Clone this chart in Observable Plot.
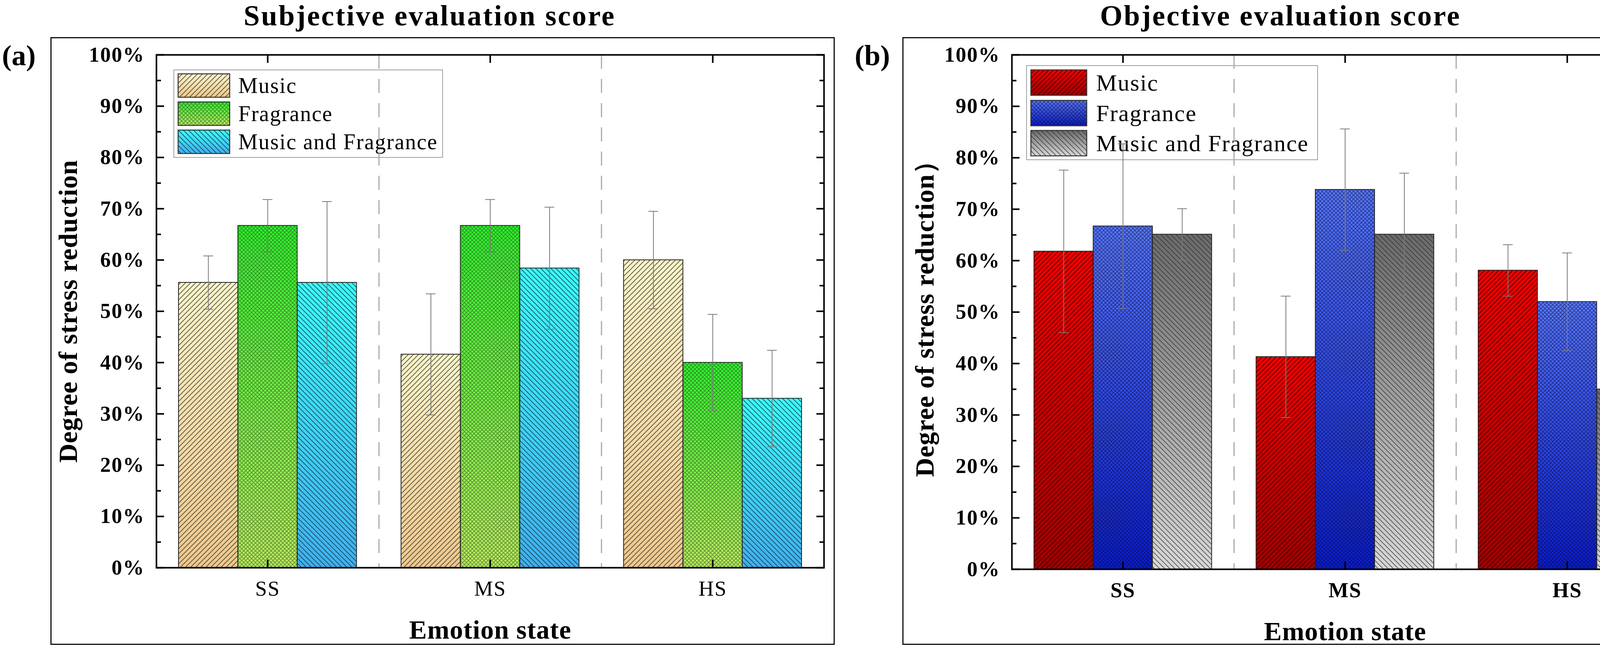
<!DOCTYPE html>
<html>
<head>
<meta charset="utf-8">
<script src="https://cdn.jsdelivr.net/npm/d3@7"></script>
<script src="https://cdn.jsdelivr.net/npm/@observablehq/plot@0.6"></script>
<style>
  html, body { margin: 0; padding: 0; background: #fff; overflow: hidden; }
  #page { position: relative; width: 4327px; height: 1659px; overflow: hidden; background: #fff;
          font-family: "Liberation Serif", "Times New Roman", serif; color: #000; }
  .abs { position: absolute; }
  .title { font-weight: bold; font-size: 74px; line-height: 1.107; white-space: nowrap; letter-spacing: 3.5px; transform: translateX(-50%); }
  .tag { font-weight: bold; font-size: 74px; line-height: 1; white-space: nowrap; }
  .panelframe { border: 3px solid #111; box-sizing: border-box; pointer-events: none; }
  .legend { border: 2px solid #a0a0a0; box-sizing: border-box; }
  .legend .txt { position: absolute; white-space: nowrap; line-height: 1; letter-spacing: 2px; }
  .legend svg { position: absolute; overflow: visible; }
  svg [aria-label="y-axis tick label"] { letter-spacing: 2px; }
  svg [aria-label="x-axis tick label"] { letter-spacing: 2px; }
  svg [aria-label="text"] { letter-spacing: 1px; }
</style>
</head>
<body>
<div id="page"></div>
<script>
// ---------------- data ----------------
const categories = ["SS", "MS", "HS"];
const series = ["Music", "Fragrance", "Music and Fragrance"];
const yTicks = [0, 10, 20, 30, 40, 50, 60, 70, 80, 90, 100];
const yMinorTicks = [5, 15, 25, 35, 45, 55, 65, 75, 85, 95];

// (a) Subjective evaluation score, % stress reduction (mean, error)
const subjMusic = [55.6, 41.6, 60.0];
const subjMusicErr = [5.2, 11.8, 9.5];
const subjFragrance = [66.7, 66.7, 40.0];
const subjFragranceErr = [5.1, 5.1, 9.4];
const subjBoth = [55.6, 58.4, 33.0];
const subjBothErr = [15.8, 11.9, 9.4];

// (b) Objective evaluation score
const objMusic = [61.8, 41.3, 58.1];
const objMusicErr = [15.8, 11.8, 5.0];
const objFragrance = [66.7, 73.8, 52.0];
const objFragranceErr = [16.0, 11.8, 9.5];
const objBoth = [65.1, 65.1, 35.0];
const objBothErr = [5.0, 11.9, 5.0];

// ---------------- helpers ----------------
function buildRows(vals, errs) {
  const rows = [];
  const groupWidth = 0.8, w = groupWidth / series.length;
  series.forEach((s, j) => categories.forEach((c, i) => {
    const x1 = i - groupWidth / 2 + j * w;
    rows.push({cat: c, series: s, j, x1, x2: x1 + w, xc: x1 + w / 2, v: vals[j][i], e: errs[j][i]});
  }));
  return rows;
}

function hatchPath(type, p) {
  const h = p / 2;
  const fwd = `M0,${p} L${p},0 M${-h},${h} L${h},${-h} M${h},${p + h} L${p + h},${h}`;
  const back = `M0,0 L${p},${p} M${-h},${h} L${h},${p + h} M${h},${-h} L${p + h},${h}`;
  if (type === "fwd") return fwd;
  if (type === "back") return back;
  return fwd + " " + back;
}

function defsMarkup(cfg) {
  let s = "";
  cfg.grads.forEach((g, j) => {
    s += `<linearGradient id="${cfg.id}-g${j}" x1="0" y1="0" x2="0" y2="1">
      <stop offset="0" stop-color="${g[0]}"/><stop offset="1" stop-color="${g[1]}"/></linearGradient>`;
  });
  cfg.hatch.forEach((h, j) => {
    s += `<pattern id="${cfg.id}-p${j}" patternUnits="userSpaceOnUse" width="${h.p}" height="${h.p}">
      <path d="${hatchPath(h.type, h.p)}" fill="none" stroke="${h.color}" stroke-width="${h.w}" stroke-opacity="${h.o}"/></pattern>`;
  });
  return s;
}

const panels = [
  {
    id: "pa", left: 129, top: 95, width: 2008, height: 1556, ml: 271, mr: 28, mt: 45, mb: 198,
    values: [subjMusic, subjFragrance, subjBoth], errors: [subjMusicErr, subjFragranceErr, subjBothErr],
    ylabel: "Degree of stress reduction", ylabelDx: -225, xBold: false,
    grads: [["#fbf5c9", "#efc88b"], ["#30f630", "#bcf062"], ["#3afcfc", "#3fb0ee"]],
    hatch: [
      {type: "fwd", p: 13, color: "#333", w: 2, o: 0.75},
      {type: "cross", p: 10, color: "#1f3010", w: 2, o: 0.45},
      {type: "back", p: 13, color: "#1a3040", w: 2, o: 0.75}
    ],
    legend: {left: 444, top: 178, width: 690, height: 226, sx: 9, sy: [8, 80, 152], sw: 134, sh: 62, tx: 164, fs: 56},
    title: "Subjective evaluation score", titleX: 1100, tag: "(a)", tagX: 5
  },
  {
    id: "pb", left: 2310, top: 95, width: 2009, height: 1556, ml: 280, mr: 23, mt: 45, mb: 194,
    values: [objMusic, objFragrance, objBoth], errors: [objMusicErr, objFragranceErr, objBothErr],
    ylabel: "Degree of stress reduction）", ylabelDx: -222, xBold: true,
    grads: [["#f20000", "#a00000"], ["#5a7bff", "#0a1ccc"], ["#6a6a6a", "#d8d8d8"]],
    hatch: [
      {type: "fwd", p: 12, color: "#300000", w: 2.2, o: 0.7},
      {type: "cross", p: 10, color: "#05083a", w: 2, o: 0.5},
      {type: "back", p: 13, color: "#2a2a2a", w: 1.8, o: 0.75}
    ],
    legend: {left: 2627, top: 167, width: 747, height: 243, sx: 9, sy: [9, 87, 164], sw: 145, sh: 67, tx: 177, fs: 60},
    title: "Objective evaluation score", titleX: 3278, tag: "(b)", tagX: 2188
  }
];

const page = document.getElementById("page");

panels.forEach(cfg => {
  // title and tag
  const t = document.createElement("div");
  t.className = "abs title"; t.style.left = cfg.titleX + "px"; t.style.top = "0px"; t.textContent = cfg.title;
  page.appendChild(t);
  const tg = document.createElement("div");
  tg.className = "abs tag"; tg.style.left = cfg.tagX + "px"; tg.style.top = "105px"; tg.textContent = cfg.tag;
  page.appendChild(tg);

  // legend (behind chart svg)
  const L = cfg.legend;
  const lg = document.createElement("div");
  lg.className = "abs legend";
  Object.assign(lg.style, {left: L.left + "px", top: L.top + "px", width: L.width + "px", height: L.height + "px"});
  series.forEach((s, j) => {
    const sw = document.createElementNS("http://www.w3.org/2000/svg", "svg");
    sw.setAttribute("width", L.sw); sw.setAttribute("height", L.sh);
    sw.style.left = L.sx + "px"; sw.style.top = L.sy[j] + "px";
    sw.innerHTML = `<rect x="1" y="1" width="${L.sw - 2}" height="${L.sh - 2}" fill="url(#${cfg.id}-g${j})"/>
      <rect x="1" y="1" width="${L.sw - 2}" height="${L.sh - 2}" fill="url(#${cfg.id}-p${j})" stroke="#333" stroke-width="2.5"/>`;
    lg.appendChild(sw);
    const tx = document.createElement("div");
    tx.className = "txt"; tx.textContent = s;
    tx.style.fontSize = L.fs + "px";
    tx.style.left = L.tx + "px";
    tx.style.top = (L.sy[j] + L.sh / 2 - L.fs * 0.5) + "px";
    lg.appendChild(tx);
  });
  page.appendChild(lg);

  const rows = buildRows(cfg.values, cfg.errors);
  const capHalf = 0.022;
  const svg = Plot.plot({
    width: cfg.width, height: cfg.height,
    marginLeft: cfg.ml, marginRight: cfg.mr, marginTop: cfg.mt, marginBottom: cfg.mb,
    style: "background: transparent; font-family: 'Liberation Serif', 'Times New Roman', serif; overflow: visible; max-width: none;",
    x: {domain: [-0.5, 2.5]},
    y: {domain: [0, 100]},
    color: {type: "identity"},
    marks: [
      Plot.ruleX([0.5, 1.5], {x: d => d, stroke: "#aaaaaa", strokeWidth: 3, strokeDasharray: "36,26"}),
      Plot.rectY(rows, {x1: "x1", x2: "x2", y1: 0, y2: "v", fill: d => `url(#${cfg.id}-g${d.j})`}),
      Plot.rectY(rows, {x1: "x1", x2: "x2", y1: 0, y2: "v", fill: d => `url(#${cfg.id}-p${d.j})`, stroke: "#222", strokeWidth: 2}),
      Plot.ruleX(rows, {x: "xc", y1: d => d.v - d.e, y2: d => d.v + d.e, stroke: "#7a7a7a", strokeWidth: 2}),
      Plot.ruleY(rows, {x1: d => d.xc - capHalf, x2: d => d.xc + capHalf, y: d => d.v + d.e, stroke: "#7a7a7a", strokeWidth: 2}),
      Plot.ruleY(rows, {x1: d => d.xc - capHalf, x2: d => d.xc + capHalf, y: d => d.v - d.e, stroke: "#7a7a7a", strokeWidth: 2}),
      Plot.frame({stroke: "#000", strokeWidth: 4}),
      // y axis labels
      Plot.axisY({anchor: "left", ticks: yTicks, tickSize: 0, tickPadding: 30, tickFormat: d => d + "%",
                  fontSize: 54, fontWeight: "bold", label: null}),
      // y ticks (inward) left & right
      Plot.axisY({anchor: "left", ticks: yTicks, tickSize: 20, dx: 20, fill: "none", strokeWidth: 4, label: null}),
      Plot.axisY({anchor: "left", ticks: yMinorTicks, tickSize: 12, dx: 12, fill: "none", strokeWidth: 4, label: null}),
      Plot.axisY({anchor: "right", ticks: yTicks, tickSize: 20, dx: -20, fill: "none", strokeWidth: 4, label: null}),
      Plot.axisY({anchor: "right", ticks: yMinorTicks, tickSize: 12, dx: -12, fill: "none", strokeWidth: 4, label: null}),
      // x axis labels & inward ticks
      Plot.axisX({anchor: "bottom", ticks: [0, 1, 2], tickFormat: i => categories[i], tickSize: 0, tickPadding: 33,
                  fontSize: 54, fontWeight: cfg.xBold ? "bold" : "normal", label: null}),
      Plot.axisX({anchor: "bottom", ticks: [0, 1, 2], tickSize: 20, dy: -20, fill: "none", strokeWidth: 4, label: null}),
      Plot.axisX({anchor: "top", ticks: [0, 1, 2], tickSize: 20, dy: 20, fill: "none", strokeWidth: 4, label: null}),
      // axis titles
      Plot.text([cfg.ylabel], {text: d => d, frameAnchor: "left", dx: cfg.ylabelDx, rotate: -90,
                 textAnchor: "middle", lineAnchor: "middle", fontSize: 68, fontWeight: "bold"}),
      Plot.text(["Emotion state"], {text: d => d, frameAnchor: "bottom", dy: 160, textAnchor: "middle",
                 lineAnchor: "middle", fontSize: 68, fontWeight: "bold"})
    ]
  });
  d3.select(svg).insert("defs", ":first-child").html(defsMarkup(cfg));
  const holder = document.createElement("div");
  holder.className = "abs";
  Object.assign(holder.style, {left: cfg.left + "px", top: cfg.top + "px", width: cfg.width + "px", height: cfg.height + "px"});
  holder.appendChild(svg);
  page.appendChild(holder);

  const fr = document.createElement("div");
  fr.className = "abs panelframe";
  Object.assign(fr.style, {left: cfg.left + "px", top: cfg.top + "px", width: cfg.width + "px", height: cfg.height + "px"});
  page.appendChild(fr);
});
</script>
</body>
</html>
